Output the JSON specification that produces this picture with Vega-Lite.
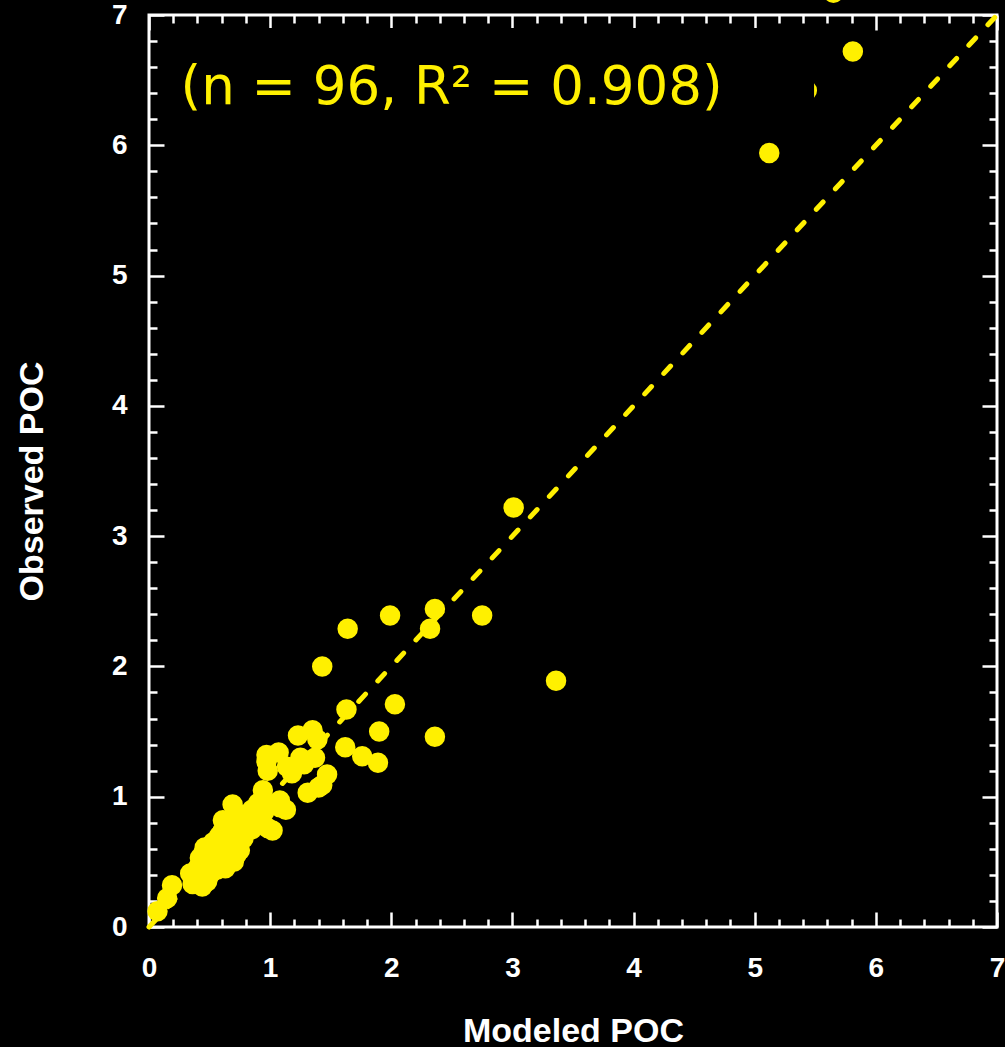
{
  "$schema": "https://vega.github.io/schema/vega-lite/v6.json",
  "width": 848,
  "height": 912,
  "autosize": {"type": "none"},
  "padding": {"left": 149, "top": 15, "right": 8, "bottom": 120},
  "background": "black",
  "config": {
    "view": {"stroke": "white", "strokeWidth": 3},
    "axis": {
      "domain": false, "grid": false, "tickColor": "white", "tickWidth": 2.5,
      "labelColor": "white", "labelFont": "Liberation Sans", "labelFontWeight": "bold", "labelFontSize": 27,
      "titleColor": "white", "titleFont": "Liberation Sans", "titleFontWeight": "bold", "titleFontSize": 34,
      "labelFlush": false
    }
  },
  "datasets": {
    "poc": [
      {"modeled": 5.65, "observed": 7.17}, {"modeled": 5.81, "observed": 6.72}, {"modeled": 5.43, "observed": 6.42},
      {"modeled": 5.12, "observed": 5.94}, {"modeled": 3.01, "observed": 3.22}, {"modeled": 3.36, "observed": 1.89},
      {"modeled": 2.36, "observed": 2.44}, {"modeled": 2.75, "observed": 2.39}, {"modeled": 2.32, "observed": 2.29},
      {"modeled": 1.99, "observed": 2.39}, {"modeled": 1.64, "observed": 2.29}, {"modeled": 1.43, "observed": 2.00},
      {"modeled": 2.03, "observed": 1.71}, {"modeled": 2.36, "observed": 1.46}, {"modeled": 1.90, "observed": 1.50},
      {"modeled": 1.63, "observed": 1.67}, {"modeled": 1.62, "observed": 1.38}, {"modeled": 1.76, "observed": 1.31},
      {"modeled": 1.89, "observed": 1.26},
      {"modeled": 1.23, "observed": 1.47}, {"modeled": 1.35, "observed": 1.51}, {"modeled": 1.39, "observed": 1.44},
      {"modeled": 0.97, "observed": 1.32}, {"modeled": 1.07, "observed": 1.34}, {"modeled": 1.25, "observed": 1.30},
      {"modeled": 1.37, "observed": 1.30}, {"modeled": 0.98, "observed": 1.20}, {"modeled": 1.14, "observed": 1.23},
      {"modeled": 1.47, "observed": 1.17}, {"modeled": 1.43, "observed": 1.09}, {"modeled": 1.31, "observed": 1.03},
      {"modeled": 0.94, "observed": 1.05}, {"modeled": 1.08, "observed": 0.97}, {"modeled": 0.93, "observed": 0.97},
      {"modeled": 1.02, "observed": 0.74}, {"modeled": 1.08, "observed": 0.92}, {"modeled": 1.18, "observed": 1.18},
      {"modeled": 1.40, "observed": 1.07}, {"modeled": 1.13, "observed": 0.90}, {"modeled": 0.97, "observed": 1.27},
      {"modeled": 1.28, "observed": 1.25},
      {"modeled": 0.69, "observed": 0.94}, {"modeled": 0.61, "observed": 0.82}, {"modeled": 0.81, "observed": 0.74},
      {"modeled": 0.46, "observed": 0.61}, {"modeled": 0.73, "observed": 0.67}, {"modeled": 0.07, "observed": 0.12},
      {"modeled": 0.15, "observed": 0.22}, {"modeled": 0.19, "observed": 0.32}, {"modeled": 0.44, "observed": 0.31},
      {"modeled": 0.34, "observed": 0.41}, {"modeled": 0.42, "observed": 0.53}, {"modeled": 0.56, "observed": 0.44},
      {"modeled": 0.75, "observed": 0.59}, {"modeled": 0.61, "observed": 0.74}, {"modeled": 0.81, "observed": 0.77},
      {"modeled": 0.98, "observed": 0.76}, {"modeled": 0.78, "observed": 0.86}, {"modeled": 0.85, "observed": 0.90},
      {"modeled": 0.65, "observed": 0.70}, {"modeled": 0.58, "observed": 0.62}, {"modeled": 0.52, "observed": 0.55},
      {"modeled": 0.48, "observed": 0.50}, {"modeled": 0.50, "observed": 0.40}, {"modeled": 0.38, "observed": 0.36},
      {"modeled": 0.40, "observed": 0.45}, {"modeled": 0.55, "observed": 0.48}, {"modeled": 0.62, "observed": 0.52},
      {"modeled": 0.68, "observed": 0.58}, {"modeled": 0.70, "observed": 0.78}, {"modeled": 0.66, "observed": 0.62},
      {"modeled": 0.63, "observed": 0.45}, {"modeled": 0.72, "observed": 0.55}, {"modeled": 0.58, "observed": 0.70},
      {"modeled": 0.88, "observed": 0.82}, {"modeled": 0.90, "observed": 0.95}, {"modeled": 0.95, "observed": 0.88},
      {"modeled": 0.78, "observed": 0.68}, {"modeled": 0.53, "observed": 0.65}, {"modeled": 0.47, "observed": 0.38},
      {"modeled": 0.43, "observed": 0.48}, {"modeled": 0.36, "observed": 0.33}, {"modeled": 0.60, "observed": 0.58},
      {"modeled": 0.67, "observed": 0.80}, {"modeled": 0.73, "observed": 0.62}, {"modeled": 0.85, "observed": 0.75},
      {"modeled": 0.57, "observed": 0.52}, {"modeled": 0.64, "observed": 0.66}, {"modeled": 0.53, "observed": 0.43},
      {"modeled": 0.45, "observed": 0.57}, {"modeled": 0.75, "observed": 0.72}, {"modeled": 0.82, "observed": 0.83},
      {"modeled": 0.92, "observed": 0.86}, {"modeled": 0.70, "observed": 0.50}, {"modeled": 0.48, "observed": 0.35},
      {"modeled": 0.62, "observed": 0.60}
    ]
  },
  "resolve": {"axis": {"x": "independent", "y": "independent"}},
  "layer": [
    {
      "data": {"values": [{}]},
      "mark": {"type": "rule", "stroke": "#fff000", "strokeWidth": 5, "strokeDash": [10, 18], "strokeCap": "round"},
      "encoding": {
        "x": {"datum": 0, "type": "quantitative", "scale": {"domain": [0, 7], "nice": false},
              "axis": {"orient": "bottom", "values": [0.2,0.4,0.6,0.8,1.2,1.4,1.6,1.8,2.2,2.4,2.6,2.8,3.2,3.4,3.6,3.8,4.2,4.4,4.6,4.8,5.2,5.4,5.6,5.8,6.2,6.4,6.6,6.8], "tickSize": -8, "labels": false, "title": null}},
        "y": {"datum": 0, "type": "quantitative", "scale": {"domain": [0, 7], "nice": false},
              "axis": {"orient": "left", "values": [0.2,0.4,0.6,0.8,1.2,1.4,1.6,1.8,2.2,2.4,2.6,2.8,3.2,3.4,3.6,3.8,4.2,4.4,4.6,4.8,5.2,5.4,5.6,5.8,6.2,6.4,6.6,6.8], "tickSize": -8, "labels": false, "title": null}},
        "x2": {"datum": 7},
        "y2": {"datum": 7}
      }
    },
    {
      "data": {"name": "poc"},
      "mark": {"type": "circle", "size": 420, "color": "#fff000", "opacity": 1},
      "encoding": {
        "x": {"field": "modeled", "type": "quantitative", "scale": {"domain": [0, 7], "nice": false},
              "axis": {"orient": "bottom", "values": [0,1,2,3,4,5,6,7], "tickSize": -15, "labelPadding": 42, "labelFontSize": 28, "title": "Modeled POC", "titleBaseline": "alphabetic", "titleY": 114}},
        "y": {"field": "observed", "type": "quantitative", "scale": {"domain": [0, 7], "nice": false},
              "axis": {"orient": "left", "values": [0,1,2,3,4,5,6,7], "tickSize": -15, "labelPadding": 37, "labelFontSize": 28, "title": "Observed POC", "titleBaseline": "alphabetic", "titleX": -107, "titleY": 466}}
      }
    },
    {
      "data": {"values": [{}]},
      "mark": {"type": "rect", "fill": "black"},
      "encoding": {
        "x": {"datum": 0.22, "type": "quantitative", "scale": {"domain": [0, 7], "nice": false},
              "axis": {"orient": "top", "values": [0,1,2,3,4,5,6,7], "tickSize": -15, "labels": false, "title": null}},
        "x2": {"datum": 5.49},
        "y": {"datum": 6.12, "type": "quantitative", "scale": {"domain": [0, 7], "nice": false},
              "axis": {"orient": "right", "values": [0,1,2,3,4,5,6,7], "tickSize": -15, "labels": false, "title": null}},
        "y2": {"datum": 6.9}
      }
    },
    {
      "data": {"values": [{}]},
      "mark": {"type": "text", "text": "(n = 96, R² = 0.908)", "font": "DejaVu Sans", "fontSize": 53, "color": "#fff000", "align": "left", "baseline": "alphabetic"},
      "encoding": {
        "x": {"datum": 0.26, "type": "quantitative", "scale": {"domain": [0, 7], "nice": false},
              "axis": {"orient": "top", "values": [0.2,0.4,0.6,0.8,1.2,1.4,1.6,1.8,2.2,2.4,2.6,2.8,3.2,3.4,3.6,3.8,4.2,4.4,4.6,4.8,5.2,5.4,5.6,5.8,6.2,6.4,6.6,6.8], "tickSize": -8, "labels": false, "title": null}},
        "y": {"datum": 6.32, "type": "quantitative", "scale": {"domain": [0, 7], "nice": false},
              "axis": {"orient": "right", "values": [0.2,0.4,0.6,0.8,1.2,1.4,1.6,1.8,2.2,2.4,2.6,2.8,3.2,3.4,3.6,3.8,4.2,4.4,4.6,4.8,5.2,5.4,5.6,5.8,6.2,6.4,6.6,6.8], "tickSize": -8, "labels": false, "title": null}}
      }
    }
  ]
}
